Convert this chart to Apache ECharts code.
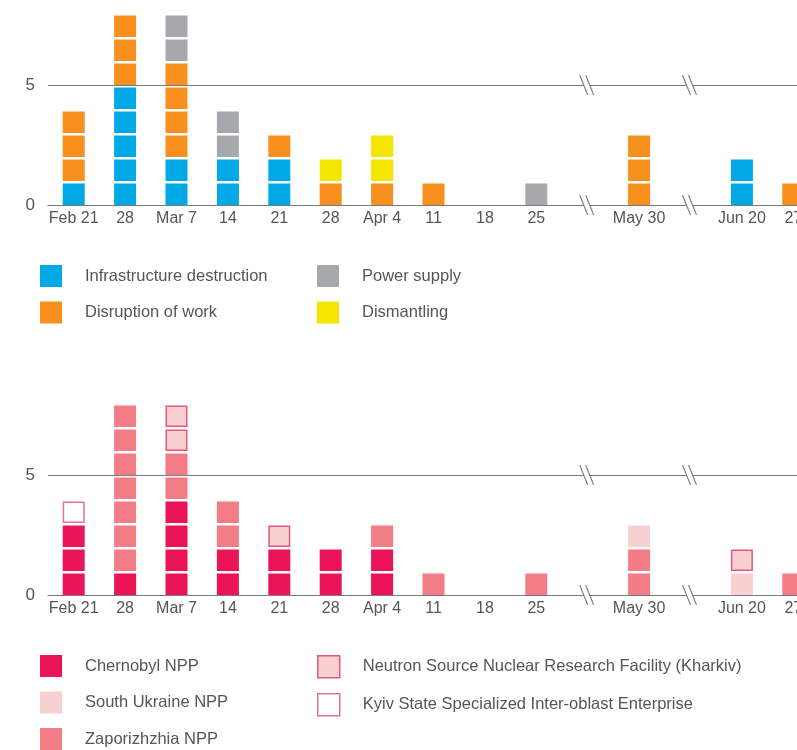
<!DOCTYPE html>
<html>
<head>
<meta charset="utf-8">
<script src="https://cdn.jsdelivr.net/npm/echarts@6/dist/echarts.min.js"></script>
<style>
  html, body { margin: 0; padding: 0; background: #fff; overflow: hidden; }
  #chart { width: 830px; height: 790px; }
</style>
</head>
<body>
<div id="chart"></div>
<script>
// weekly slots; the empty ones are axis breaks
const weeks = ["Feb 21", "28", "Mar 7", "14", "21", "28", "Apr 4", "11", "18", "25", "", "May 30", "", "Jun 20", "27"];
const breakSlots = [10, 12];
const breakLevels = [0, 5];

// top chart: type of impact
const infraDestruction = [1, 5, 2, 2, 2, 0, 0, 0, 0, 0, 0, 0, 0, 2, 0];
const disruptionOfWork = [3, 3, 4, 0, 1, 1, 1, 1, 0, 0, 0, 3, 0, 0, 1];
const powerSupply      = [0, 0, 2, 2, 0, 0, 0, 0, 0, 1, 0, 0, 0, 0, 0];
const dismantling      = [0, 0, 0, 0, 0, 1, 2, 0, 0, 0, 0, 0, 0, 0, 0];

// bottom chart: facility
const chernobyl     = [3, 1, 4, 2, 2, 2, 2, 0, 0, 0, 0, 0, 0, 0, 0];
const zaporizhzhia  = [0, 7, 2, 2, 0, 0, 1, 1, 0, 1, 0, 2, 0, 0, 1];
const southUkraine  = [0, 0, 0, 0, 0, 0, 0, 0, 0, 0, 0, 1, 0, 1, 0];
const neutronSource = [0, 0, 2, 0, 1, 0, 0, 0, 0, 0, 0, 0, 0, 1, 0];
const kyivEnterprise = [1, 0, 0, 0, 0, 0, 0, 0, 0, 0, 0, 0, 0, 0, 0];

const FONT = "'Liberation Sans', Arial, sans-serif";
const TXT = "#555";
const LINE = "#7a7a7a";

let myChart = echarts.init(document.getElementById("chart"));

// each unit of a stack is drawn as its own square
function blockRender(fill, stroke) {
  return function (params, api) {
    const x = api.value(0), base = api.value(1), n = api.value(2);
    const w = 22, gap = 2.5;
    const children = [];
    for (let u = 0; u < n; u++) {
      const bottom = api.coord([x, base + u]);
      const top = api.coord([x, base + u + 1]);
      const h = bottom[1] - top[1] - gap;
      if (stroke) {
        children.push({
          type: "rect",
          shape: { x: bottom[0] - w / 2 + 0.75, y: top[1] + gap + 0.75, width: w - 1.5, height: h - 1.5 },
          style: { fill: fill, stroke: stroke, lineWidth: 1.5 }
        });
      } else {
        children.push({
          type: "rect",
          shape: { x: bottom[0] - w / 2, y: top[1] + gap, width: w, height: h },
          style: { fill: fill }
        });
      }
    }
    return { type: "group", children: children };
  };
}

function stackSeries(defs, axisIndex) {
  const base = weeks.map(() => 0);
  return defs.map(d => {
    const data = [];
    d.values.forEach((v, i) => {
      if (v > 0) data.push([i, base[i], v]);
      base[i] += v;
    });
    return {
      name: d.name,
      type: "custom",
      xAxisIndex: axisIndex,
      yAxisIndex: axisIndex,
      itemStyle: { color: d.fill },
      encode: { x: 0, y: 1 },
      renderItem: blockRender(d.fill, d.stroke),
      data: data
    };
  });
}

function breakSeries(axisIndex) {
  const data = [];
  breakSlots.forEach(s => breakLevels.forEach(l => data.push([s, l])));
  return {
    type: "custom",
    xAxisIndex: axisIndex,
    yAxisIndex: axisIndex,
    silent: true,
    encode: { x: 0, y: 1 },
    renderItem: function (params, api) {
      const p = api.coord([api.value(0), api.value(1)]);
      const cx = p[0] - 1, cy = p[1];
      return {
        type: "group",
        children: [
          { type: "rect", shape: { x: cx - 3, y: cy - 2, width: 6, height: 4 }, style: { fill: "#fff" } },
          { type: "line", shape: { x1: cx - 7, y1: cy - 10, x2: cx + 1, y2: cy + 10 }, style: { stroke: LINE, lineWidth: 1.1 } },
          { type: "line", shape: { x1: cx - 1, y1: cy - 10, x2: cx + 7, y2: cy + 10 }, style: { stroke: LINE, lineWidth: 1.1 } }
        ]
      };
    },
    data: data
  };
}

const topDefs = [
  { name: "Infrastructure destruction", values: infraDestruction, fill: "#00a8e6" },
  { name: "Disruption of work", values: disruptionOfWork, fill: "#f7901e" },
  { name: "Power supply", values: powerSupply, fill: "#a7a8ab" },
  { name: "Dismantling", values: dismantling, fill: "#f4e600" }
];
const bottomDefs = [
  { name: "Chernobyl NPP", values: chernobyl, fill: "#ec1458" },
  { name: "Zaporizhzhia NPP", values: zaporizhzhia, fill: "#f27d87" },
  { name: "South Ukraine NPP", values: southUkraine, fill: "#f9d0d1" },
  { name: "Neutron Source Nuclear Research Facility (Kharkiv)", values: neutronSource, fill: "#f9d0d1", stroke: "#e5587d" },
  { name: "Kyiv State Specialized Inter-oblast Enterprise", values: kyivEnterprise, fill: "#ffffff", stroke: "#e5708f" }
];

function legendItem(d) {
  return {
    name: d.name,
    icon: "rect",
    itemStyle: d.stroke
      ? { color: d.fill, borderColor: d.stroke, borderWidth: 1.5 }
      : { color: d.fill, borderWidth: 0 }
  };
}

function legendCol(left, top, defs) {
  return {
    orient: "vertical",
    left: left,
    top: top,
    padding: 0,
    itemWidth: 22,
    itemHeight: 22,
    itemGap: 14.5,
    selectedMode: false,
    textStyle: { color: TXT, fontSize: 16.5, fontFamily: FONT, padding: [0, 0, 0, 18] },
    data: defs.map(legendItem)
  };
}

function xAxisOpt(gridIndex) {
  return {
    type: "category",
    gridIndex: gridIndex,
    data: weeks,
    axisTick: { show: false },
    axisLine: { lineStyle: { color: LINE, width: 1.2 } },
    axisLabel: { interval: 0, margin: 6, color: TXT, fontSize: 16, fontFamily: FONT }
  };
}

function yAxisOpt(gridIndex) {
  return {
    type: "value",
    gridIndex: gridIndex,
    min: 0,
    max: 8,
    interval: 5,
    axisLine: { show: false },
    axisTick: { show: false },
    axisLabel: { margin: 13, color: TXT, fontSize: 17, fontFamily: FONT, showMaxLabel: false },
    splitLine: { showMaxLine: false, lineStyle: { color: LINE, width: 1.2 } }
  };
}

let option = {
  animation: false,
  grid: [
    { left: 48, width: 771, top: 13, height: 192 },
    { left: 48, width: 771, top: 403, height: 192 }
  ],
  xAxis: [xAxisOpt(0), xAxisOpt(1)],
  yAxis: [yAxisOpt(0), yAxisOpt(1)],
  legend: [
    legendCol(40, 265, [topDefs[0], topDefs[1]]),
    legendCol(317, 265, [topDefs[2], topDefs[3]]),
    legendCol(40, 655, [bottomDefs[0], bottomDefs[2], bottomDefs[1]]),
    legendCol(317, 655, [bottomDefs[3], bottomDefs[4]])
  ],
  series: [].concat(
    stackSeries(topDefs, 0),
    stackSeries(bottomDefs, 1),
    [breakSeries(0), breakSeries(1)]
  )
};

myChart.setOption(option);
</script>
</body>
</html>
